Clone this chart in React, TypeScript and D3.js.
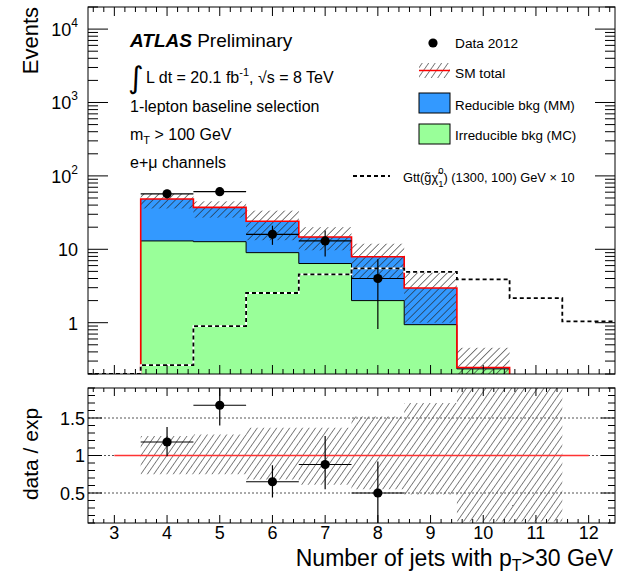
import React from 'react';
import * as d3 from 'd3';

// jet multiplicity bins (centres)
const nJets = [3, 4, 5, 6, 7, 8, 9, 10, 11, 12];
const irreducibleMC = [0, 13, 12.7, 9.0, 6.4, 2.0, 0.94, 0.235, 0, 0];
const reducibleMM = [0, 35.4, 24.6, 15.1, 8.3, 5.9, 2.03, 0.01, 0, 0];
const smUp = [0, 57, 45, 33.6, 20, 11.9, 4.93, 0.455, 0, 0];
const smDown = [0, 36, 27, 13.3, 9.7, 4.06, 1.0, 0.035, 0, 0];
const gttSignal = [0.2, 0.265, 0.9, 2.54, 4.55, 5.48, 4.93, 3.9, 2.16, 1.04];

// data 2012
const dataJets = [4, 5, 6, 7, 8];
const dataEvents = [57, 61, 16, 13, 4];
const dataLow = [49.5, 53.2, 11.5, 8.0, 0.82];
const dataHigh = [64.5, 68.8, 21, 18.1, 7.3];

// data / exp
const ratio = [1.18, 1.67, 0.65, 0.88, 0.5];
const ratioLow = [0.99, 1.4, 0.44, 0.55, 0.0];
const ratioHigh = [1.38, 1.95, 0.87, 1.26, 0.92];
const bandJets = [4, 5, 6, 7, 8, 9, 10, 11];
const bandLow = [0.75, 0.75, 0.68, 0.61, 0.55, 0.48, 0.12, 0.12];
const bandHigh = [1.26, 1.28, 1.37, 1.37, 1.52, 1.7, 2.0, 2.0];

const xTickLabels = [3, 4, 5, 6, 7, 8, 9, 10, 11, 12];
const ratioTickLabels = [0.5, 1, 1.5];
const logTickExps = [0, 1, 2, 3, 4];

const W = 632, H = 575;
const L = 88, R = 615;
const top1 = 7, bot1 = 374;
const top2 = 388, bot2 = 523;
const yMin = 0.2;
const FONT = '"Liberation Sans", Arial, Helvetica, sans-serif';
const BLUE = '#3399ff';
const GREEN = '#99ff99';

export default function App() {
  const x = d3.scaleLinear().domain([2.5, 12.5]).range([L, R]);
  const y = d3.scaleLog().domain([yMin, 20000]).range([bot1, top1]);
  const yr = d3.scaleLinear().domain([0.1, 1.9]).range([bot2, top2]);

  const cl = (v: number) => Math.max(v, yMin);
  const total = irreducibleMC.map((v, i) => v + reducibleMM[i]);
  const used = nJets.map((c, i) => i).filter(i => total[i] > 0);

  const steps = (vals: number[], idx: number[]) => {
    const pts: [number, number][] = [];
    idx.forEach(i => {
      pts.push([nJets[i] - 0.5, vals[i]]);
      pts.push([nJets[i] + 0.5, vals[i]]);
    });
    return pts;
  };

  const lineFn = d3.line<[number, number]>().x(d => x(d[0])).y(d => y(cl(d[1])));
  const first = nJets[used[0]] - 0.5;
  const last = nJets[used[used.length - 1]] + 0.5;

  const greenArea = d3.area<[number, number]>()
    .x(d => x(d[0])).y0(bot1).y1(d => y(cl(d[1])))(steps(irreducibleMC, used));
  const stackPts = used.flatMap(i => [
    { x: nJets[i] - 0.5, lo: irreducibleMC[i], hi: total[i] },
    { x: nJets[i] + 0.5, lo: irreducibleMC[i], hi: total[i] },
  ]);
  const blueArea = d3.area<any>()
    .x(d => x(d.x)).y0(d => y(cl(d.lo))).y1(d => y(cl(d.hi)))(stackPts);

  const greenLine = lineFn([[first, yMin], ...steps(irreducibleMC, used), [last, yMin]]);
  const redLine = lineFn([[first, yMin], ...steps(total, used), [last, yMin]]);
  const allIdx = nJets.map((c, i) => i);
  const sigLine = lineFn(steps(gttSignal, allIdx));

  const xMinor = d3.range(2.6, 12.5, 0.2).map(v => Math.round(v * 10) / 10);
  const logMinor: number[] = [];
  for (let e = -1; e <= 4; e++) for (let m = 1; m <= 9; m++) {
    const v = m * Math.pow(10, e);
    if (v >= yMin && v <= 20000) logMinor.push(v);
  }
  const rMinor = d3.range(0.1, 1.91, 0.1).map(v => Math.round(v * 10) / 10);

  const isInt = (v: number) => Math.abs(v - Math.round(v)) < 1e-6;

  return (
    <svg width={W} height={H} style={{ position: 'absolute', left: 0, top: 0, background: '#fff' }}
      fontFamily={FONT}>
      <defs>
        <pattern id="hatch" patternUnits="userSpaceOnUse" width="5.3" height="5.3" patternTransform="rotate(45)">
          <line x1="0" y1="0" x2="0" y2="5.3" stroke="#222" strokeWidth="1.2" />
        </pattern>
        <pattern id="hatch2" patternUnits="userSpaceOnUse" width="5.3" height="5.3" patternTransform="rotate(35)">
          <line x1="0" y1="0" x2="0" y2="5.3" stroke="#333" strokeWidth="1.2" />
        </pattern>
        <clipPath id="c1"><rect x={L} y={top1} width={R - L} height={bot1 - top1} /></clipPath>
        <clipPath id="c2"><rect x={L} y={top2} width={R - L} height={bot2 - top2} /></clipPath>
      </defs>

      {/* main panel */}
      <g clipPath="url(#c1)">
        <path d={greenArea!} fill={GREEN} />
        <path d={blueArea!} fill={BLUE} />
        <path d={greenLine!} fill="none" stroke="#000" strokeWidth={1} />
        {used.map(i => (
          <rect key={i} x={x(nJets[i] - 0.5)} width={x(nJets[i] + 0.5) - x(nJets[i] - 0.5)}
            y={y(cl(smUp[i]))} height={y(cl(smDown[i])) - y(cl(smUp[i]))} fill="url(#hatch)" />
        ))}
        <path d={redLine!} fill="none" stroke="#ff0000" strokeWidth={1.6} />
        <path d={sigLine!} fill="none" stroke="#fff" strokeWidth={1.8} />
        <path d={sigLine!} fill="none" stroke="#000" strokeWidth={1.8} strokeDasharray="4,3" />
        {dataJets.map((c, i) => (
          <g key={c}>
            <line x1={x(c - 0.5)} x2={x(c + 0.5)} y1={y(dataEvents[i])} y2={y(dataEvents[i])} stroke="#000" strokeWidth={1.2} />
            <line x1={x(c)} x2={x(c)} y1={y(cl(dataLow[i]))} y2={y(dataHigh[i])} stroke="#000" strokeWidth={1.2} />
            <circle cx={x(c)} cy={y(dataEvents[i])} r={4.6} fill="#000" />
          </g>
        ))}
      </g>
      <rect x={L} y={top1} width={R - L} height={bot1 - top1} fill="none" stroke="#000" strokeWidth={1} />
      {xMinor.map(v => {
        const len = isInt(v) ? 9 : 5;
        return (
          <g key={'xt' + v} stroke="#000" strokeWidth={1}>
            <line x1={x(v)} x2={x(v)} y1={top1} y2={top1 + len} />
            <line x1={x(v)} x2={x(v)} y1={bot1} y2={bot1 - len} />
          </g>
        );
      })}
      {logMinor.map(v => {
        const major = isInt(Math.log10(v));
        const len = major ? 20 : 10;
        return (
          <g key={'yt' + v} stroke="#000" strokeWidth={1}>
            <line x1={L} x2={L + len} y1={y(v)} y2={y(v)} />
            <line x1={R} x2={R - len} y1={y(v)} y2={y(v)} />
          </g>
        );
      })}
      {logTickExps.map(e => (
        <text key={'yl' + e} x={78} y={y(Math.pow(10, e)) + 7} textAnchor="end" fontSize={18} fill="#000">
          {e === 0 ? '1' : '10'}
          {e >= 2 && <tspan fontSize={12} dy={-9}>{e}</tspan>}
        </text>
      ))}
      <text transform="translate(38,7) rotate(-90)" textAnchor="end" fontSize={22}>Events</text>

      {/* ATLAS labels */}
      <text x={130} y={47} fontSize={19}>
        <tspan fontWeight="bold" fontStyle="italic">ATLAS</tspan>
        <tspan> Preliminary</tspan>
      </text>
      <text x={128} y={88} fontSize={30} fontFamily="DejaVu Sans">∫</text>
      <text x={146} y={83} fontSize={16}>
        L dt = 20.1 fb<tspan fontSize={11} dy={-7}>-1</tspan><tspan dy={7}>, √s = 8 TeV</tspan>
      </text>
      <text x={130} y={112} fontSize={16}>1-lepton baseline selection</text>
      <text x={130} y={140} fontSize={16}>
        m<tspan fontSize={11} dy={4}>T</tspan><tspan dy={-4}> &gt; 100 GeV</tspan>
      </text>
      <text x={130} y={168} fontSize={16}>e+μ channels</text>

      {/* legend */}
      <circle cx={433} cy={43} r={4.6} fill="#000" />
      <text x={455} y={48} fontSize={13.7}>Data 2012</text>
      <rect x={419} y={63} width={31} height={15} fill="url(#hatch2)" />
      <line x1={419} x2={450} y1={70.5} y2={70.5} stroke="#ff0000" strokeWidth={1.5} />
      <text x={455} y={78} fontSize={13.7}>SM total</text>
      <rect x={419} y={93} width={31} height={20} fill={BLUE} stroke="#000" strokeWidth={1} />
      <text x={455} y={110} fontSize={13.4}>Reducible bkg (MM)</text>
      <rect x={419} y={124} width={31} height={20} fill={GREEN} stroke="#000" strokeWidth={1} />
      <text x={455} y={140} fontSize={13.4}>Irreducible bkg (MC)</text>
      <line x1={353} x2={390} y1={176} y2={176} stroke="#000" strokeWidth={1.8} strokeDasharray="4,3" />
      <text x={403} y={182} fontSize={12.8}>
        Gtt(g̃χ̃<tspan fontSize={9.5} dy={-8}>0</tspan><tspan fontSize={9.5} dx={-5.3} dy={13}>1</tspan><tspan dy={-5}>) (1300, 100) GeV × 10</tspan>
      </text>

      {/* ratio panel */}
      <g clipPath="url(#c2)">
        {bandJets.map((c, i) => (
          <rect key={c} x={x(c - 0.5)} width={x(c + 0.5) - x(c - 0.5)} y={yr(bandHigh[i])}
            height={yr(bandLow[i]) - yr(bandHigh[i])} fill="url(#hatch2)" />
        ))}
        {ratioTickLabels.map(v => (
          <line key={'g' + v} x1={L} x2={R} y1={yr(v)} y2={yr(v)} stroke="#555" strokeWidth={1} strokeDasharray="2,2" />
        ))}
        <line x1={x(3)} x2={x(12)} y1={yr(1)} y2={yr(1)} stroke="#ff3333" strokeWidth={1.6} />
        {dataJets.map((c, i) => (
          <g key={c}>
            <line x1={x(c - 0.5)} x2={x(c + 0.5)} y1={yr(ratio[i])} y2={yr(ratio[i])} stroke="#000" strokeWidth={1.2} />
            <line x1={x(c)} x2={x(c)} y1={yr(ratioLow[i])} y2={yr(ratioHigh[i])} stroke="#000" strokeWidth={1.2} />
            <circle cx={x(c)} cy={yr(ratio[i])} r={4.6} fill="#000" />
          </g>
        ))}
      </g>
      <rect x={L} y={top2} width={R - L} height={bot2 - top2} fill="none" stroke="#000" strokeWidth={1} />
      {xMinor.map(v => {
        const len = isInt(v) ? 8 : 4;
        return (
          <g key={'rx' + v} stroke="#000" strokeWidth={1}>
            <line x1={x(v)} x2={x(v)} y1={top2} y2={top2 + len} />
            <line x1={x(v)} x2={x(v)} y1={bot2} y2={bot2 - len} />
          </g>
        );
      })}
      {rMinor.map(v => {
        const len = isInt(v * 2) ? 14 : 7;
        return (
          <g key={'ry' + v} stroke="#000" strokeWidth={1}>
            <line x1={L} x2={L + len} y1={yr(v)} y2={yr(v)} />
            <line x1={R} x2={R - len} y1={yr(v)} y2={yr(v)} />
          </g>
        );
      })}
      {ratioTickLabels.map(v => (
        <text key={'rl' + v} x={85} y={yr(v) + 6.5} textAnchor="end" fontSize={18}>{v}</text>
      ))}
      {xTickLabels.map(v => (
        <text key={'xl' + v} x={x(v)} y={539} textAnchor="middle" fontSize={18}>{v}</text>
      ))}
      <text transform="translate(38,454) rotate(-90)" textAnchor="middle" fontSize={21}>data / exp</text>
      <text x={613} y={566} textAnchor="end" fontSize={23}>
        Number of jets with p<tspan fontSize={16} dy={5}>T</tspan><tspan dy={-5}>&gt;30 GeV</tspan>
      </text>
    </svg>
  );
}
